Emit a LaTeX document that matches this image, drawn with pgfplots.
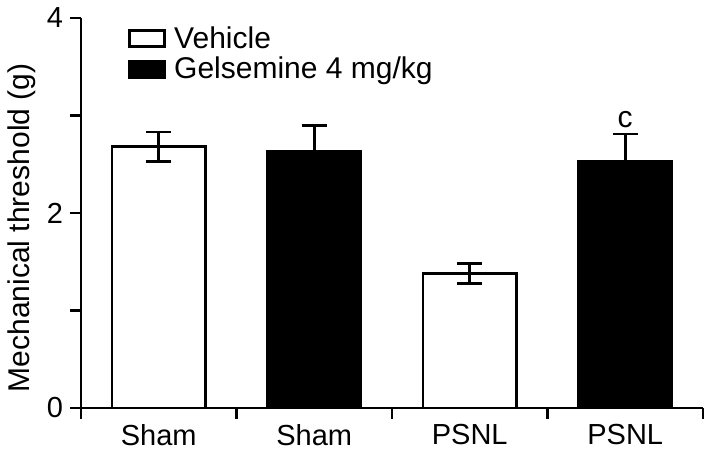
\documentclass[border=0pt]{standalone}
\usepackage{fontspec}
\setmainfont{Liberation Sans}
\usepackage{pgfplots}
\pgfplotsset{compat=1.18}
\usetikzlibrary{calc}
\newcommand\ff{\fontsize{15}{17}\selectfont}
\newcommand\tf{\fontsize{14.5}{17}\selectfont}

\begin{document}
\begin{tikzpicture}
\begin{axis}[
    width=311pt, height=195pt, scale only axis,
    xmin=0, xmax=4, ymin=0, ymax=4,
    axis lines*=left,
    axis line style={line width=1.4pt},
    tick style={black, line width=1.4pt},
    tick align=outside,
    major tick length=5.5pt, minor tick length=5.5pt,
    xtick={0,1,2,3,4},
    x tick label as interval,
    xticklabels={Sham,Sham,PSNL,PSNL},
    x tick label style={yshift=1pt},
    ytick={0,2,4}, minor ytick={1,3},
    tick label style={font=\tf},
    /pgf/number format/assume math mode=true,
    ylabel={Mechanical threshold (g)},
    ylabel style={font=\ff, at={(axis description cs:-0.095,0.462)}, anchor=center},
    ybar, bar width=0.6, bar shift=0pt,
    legend style={draw=none, fill=none, font=\ff, inner sep=0pt,
        at={(axis description cs:0.0756,0.99)}, anchor=north west,
        row sep=-1pt,
        /tikz/every odd column/.append style={column sep=2pt}},
    legend cell align=left,
    legend image code/.code={\draw[#1, line width=1.4pt] (0pt,-4pt) rectangle (17.5pt,4pt);},
]
\coordinate (o) at (axis cs:0,0);
\addplot[draw=black, fill=white, line width=1.4pt,
    error bars/.cd, y dir=both, y explicit,
    error bar style={line width=1.4pt, black},
    error mark options={rotate=90, line width=1.4pt, mark size=6.25pt, black}]
    coordinates {(0.5,2.68) +- (0,0.15) (2.5,1.38) +- (0,0.10)};
\addlegendentry{Vehicle}
\addplot[draw=black, fill=black, line width=1.4pt,
    error bars/.cd, y dir=plus, y explicit,
    error bar style={line width=1.4pt, black},
    error mark options={rotate=90, line width=1.4pt, mark size=6.25pt, black}]
    coordinates {(1.5,2.63) +- (0,0.27) (3.5,2.53) +- (0,0.28)};
\addlegendentry{Gelsemine 4 mg/kg}
\node[font=\ff, anchor=south, inner sep=3pt] at (axis cs:3.5,2.81) {c};
\end{axis}
\pgfresetboundingbox
\path ($(o)+(-40.5pt,-22.5pt)$) rectangle ($(o)+(316.5pt,204pt)$);
\end{tikzpicture}
\end{document}
